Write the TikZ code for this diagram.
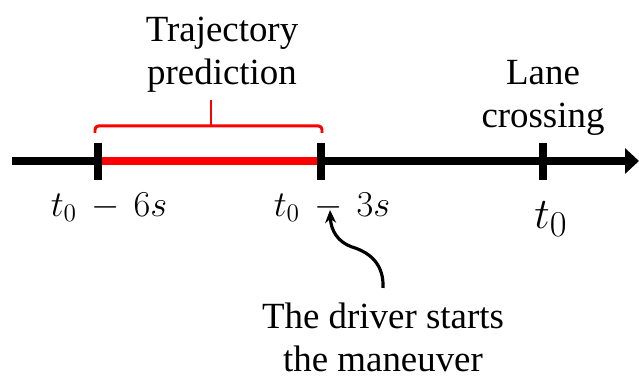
\documentclass[tikz,border=0pt]{standalone}
\usepackage{fontspec}
\setmainfont{Liberation Serif}
\usetikzlibrary{arrows.meta, positioning}
\definecolor{predred}{RGB}{255,0,0}
\tikzset{
    axisline/.style={line width=4.5pt, -{Triangle[length=0.28cm, width=0.5cm]}},
    predseg/.style={line width=4.5pt, draw=predred},
    tickmark/.style={line width=4.5pt},
    bracketline/.style={line width=1.7pt, draw=predred, rounded corners=2pt},
    lbl/.style={font=\fontsize{21}{24.5}\selectfont, align=center, inner sep=0pt},
    timelbl/.style={font=\fontsize{20}{22}\selectfont, inner sep=0pt},
    pointer/.style={line width=1.8pt, -{Stealth[length=0.26cm, width=0.22cm]}},
}
\begin{document}
\begin{tikzpicture}[x=0.02cm, y=0.02cm]
    \useasboundingbox (0,0) rectangle (639,381);
    % time axis
    \coordinate (axstart) at (12,220);
    \coordinate (axend) at (639,220);
    \coordinate (tA) at (98,220);
    \coordinate (tB) at (321,220);
    \coordinate (tC) at (543,220);
    \draw[axisline] (axstart) -- (axend);
    \draw[predseg] (tA) -- (tB);
    \foreach \t in {tA,tB,tC} {
        \draw[tickmark] (\t) ++(0,18) -- ++(0,-37);
    }
    % bracket over the prediction window
    \draw[bracketline] (95,248) |- (322,255) -- (322,248);
    \draw[bracketline] (211,255) -- (211,281);
    \node[lbl, anchor=north] (predtxt) at (222,364) {Trajectory\\prediction};
    \node[lbl, anchor=north] (lanetxt) at (543,321) {Lane\\crossing};
    \node[timelbl] (lblA) at (109,174) {$t_0 \,-\, 6s$};
    \node[timelbl] (lblB) at (332,174) {$t_0 \,-\, 3s$};
    \node[timelbl, font=\fontsize{30}{32}\selectfont] (lblC) at (551,162) {$t_0$};
    % maneuver start
    \node[lbl, anchor=north] (drivertxt) at (383,78) {The driver starts\\the maneuver};
    \coordinate (pbase) at (383,93);
    \coordinate (pbend) at (352,134);
    \coordinate (ptip) at (330,171);
    \draw[pointer] (pbase) .. controls (384,115) and (372,128) .. (pbend)
        .. controls (338,139) and (331,150) .. (ptip);
\end{tikzpicture}
\end{document}
